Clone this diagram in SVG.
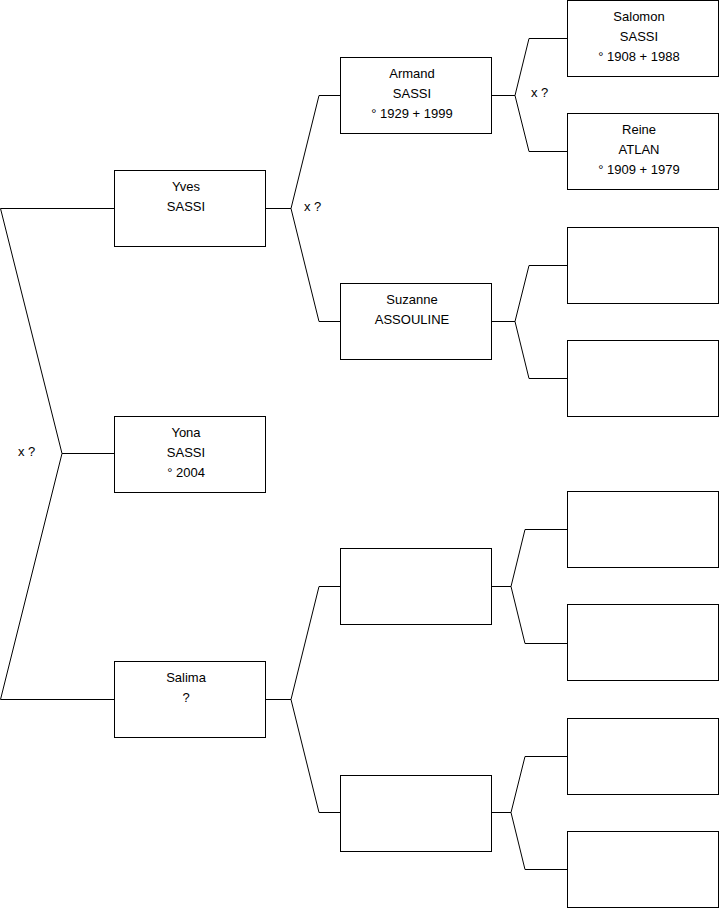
<svg xmlns="http://www.w3.org/2000/svg" width="719" height="908" viewBox="0 0 719 908">
<style>
.box{fill:#fff;stroke:#000;stroke-width:1}
.con{fill:none;stroke:#000;stroke-width:1}
text{font-family:"Liberation Sans",Arial,sans-serif;font-size:13px;fill:#000}
.c{text-anchor:middle}
</style>
<rect width="719" height="908" fill="#fff"/>
<g id="connectors">
<path class="con" d="M0.5,208.5 H114 M0.5,208.5 L62,453.5 L0.5,699.5 H114 M62,453.5 H114"/>
<path class="con" d="M265,208.5 H291 L319,95.5 H340 M291,208.5 L319,321.5 H340"/>
<path class="con" d="M265,699.5 H291 L319,586.5 H340 M291,699.5 L319,812.5 H340"/>
<path class="con" d="M491,95.5 H515 L529,38.5 H567 M515,95.5 L529,151.5 H567"/>
<path class="con" d="M491,321.5 H515 L529,265.5 H567 M515,321.5 L529,378.5 H567"/>
<path class="con" d="M491,586.5 H511 L525,529.5 H567 M511,586.5 L525,643.5 H567"/>
<path class="con" d="M491,812.5 H511 L525,756.5 H567 M511,812.5 L525,869.5 H567"/>
<text x="18" y="456">x ?</text>
<text x="304" y="211">x ?</text>
<text x="531" y="97">x ?</text>
</g>
<g id="yves"><rect class="box" x="114.5" y="170.5" width="151" height="76"/><text class="c" x="186" y="191">Yves</text><text class="c" x="186" y="211">SASSI</text></g>
<g id="yona"><rect class="box" x="114.5" y="416.5" width="151" height="76"/><text class="c" x="186" y="437">Yona</text><text class="c" x="186" y="457">SASSI</text><text class="c" x="186" y="477">° 2004</text></g>
<g id="salima"><rect class="box" x="114.5" y="661.5" width="151" height="76"/><text class="c" x="186" y="682">Salima</text><text class="c" x="186" y="702">?</text></g>
<g id="armand"><rect class="box" x="340.5" y="57.5" width="151" height="76"/><text class="c" x="412" y="78">Armand</text><text class="c" x="412" y="98">SASSI</text><text class="c" x="412" y="118">° 1929 + 1999</text></g>
<g id="suzanne"><rect class="box" x="340.5" y="283.5" width="151" height="76"/><text class="c" x="412" y="304">Suzanne</text><text class="c" x="412" y="324">ASSOULINE</text></g>
<g id="p6"><rect class="box" x="340.5" y="548.5" width="151" height="76"/></g>
<g id="p7"><rect class="box" x="340.5" y="775.5" width="151" height="76"/></g>
<g id="salomon"><rect class="box" x="567.5" y="0.5" width="151" height="76"/><text class="c" x="639" y="21">Salomon</text><text class="c" x="639" y="41">SASSI</text><text class="c" x="639" y="61">° 1908 + 1988</text></g>
<g id="reine"><rect class="box" x="567.5" y="113.5" width="151" height="76"/><text class="c" x="639" y="134">Reine</text><text class="c" x="639" y="154">ATLAN</text><text class="c" x="639" y="174">° 1909 + 1979</text></g>
<g id="p10"><rect class="box" x="567.5" y="227.5" width="151" height="76"/></g>
<g id="p11"><rect class="box" x="567.5" y="340.5" width="151" height="76"/></g>
<g id="p12"><rect class="box" x="567.5" y="491.5" width="151" height="76"/></g>
<g id="p13"><rect class="box" x="567.5" y="604.5" width="151" height="76"/></g>
<g id="p14"><rect class="box" x="567.5" y="718.5" width="151" height="76"/></g>
<g id="p15"><rect class="box" x="567.5" y="831.5" width="151" height="76"/></g>
</svg>
